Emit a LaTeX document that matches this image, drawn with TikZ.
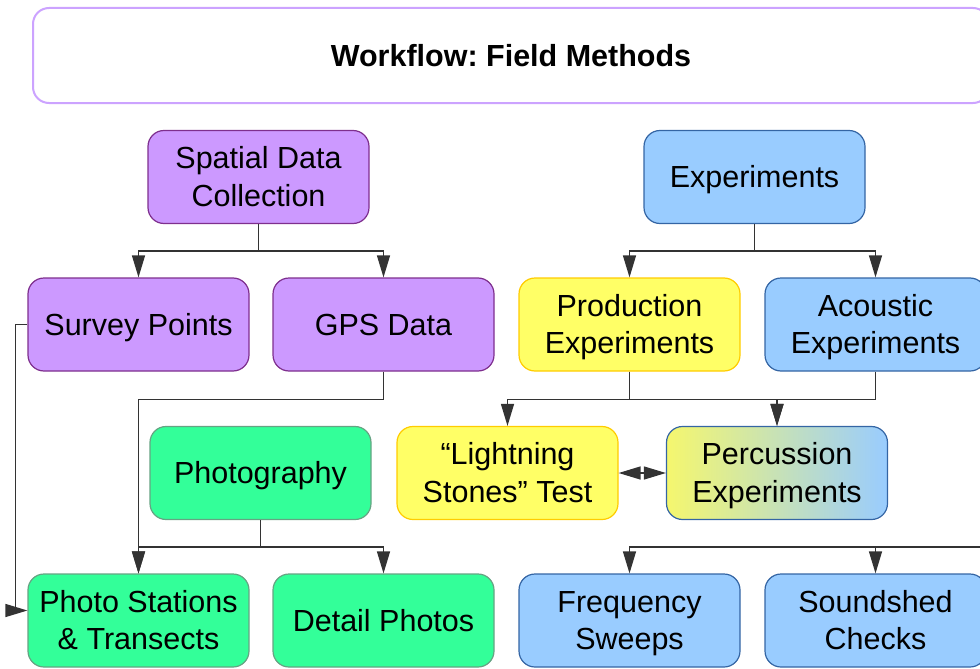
\documentclass[tikz,border=0pt]{standalone}
\usepackage{fontspec}
\setmainfont{Liberation Sans}
\usetikzlibrary{arrows.meta}
\frenchspacing

% Fill and border colours of the workflow boxes
\definecolor{purplefill}{HTML}{CC99FF}
\definecolor{purpleline}{HTML}{7E2F8E}
\definecolor{bluefill}{HTML}{99CCFF}
\definecolor{blueline}{HTML}{3465A4}
\definecolor{yellowfill}{HTML}{FFFF66}
\definecolor{yellowline}{HTML}{FFCC00}
\definecolor{greenfill}{HTML}{33FF99}
\definecolor{greenline}{HTML}{66A383}
\definecolor{titleline}{HTML}{CCA3FF}
\definecolor{gradleft}{HTML}{F5F76E}
\definecolor{linegray}{HTML}{333333}

% Line strut with the font's ascent and descent, so every line is centred alike
\newcommand\ls{\rule[-6.5pt]{0pt}{34.1pt}}

\begin{document}
\begin{tikzpicture}[x=1pt,y=-1pt,
  box/.style={rounded corners=16pt, minimum width=221pt, minimum height=93pt,
    line width=1.2pt, align=center, inner sep=0pt,
    font=\fontsize{30.5}{37.2}\selectfont},
  purplebox/.style={box, fill=purplefill, draw=purpleline},
  bluebox/.style={box, fill=bluefill, draw=blueline},
  yellowbox/.style={box, fill=yellowfill, draw=yellowline},
  greenbox/.style={box, fill=greenfill, draw=greenline},
  mixbox/.style={box, left color=gradleft, right color=bluefill, draw=blueline},
  tip/.tip={Triangle[length=22pt,width=13pt]},
  conn/.style={draw=linegray, line width=1.3pt, -tip},
  bothconn/.style={draw=linegray, line width=1.3pt, tip-tip}
]
\path[use as bounding box, clip] (0,0) rectangle (980,669);

% Title banner
\node[draw=titleline, line width=2pt, fill=white, rounded corners=16pt,
  minimum width=956pt, minimum height=95pt, inner sep=0pt,
  font=\bfseries\fontsize{30.5}{37.2}\selectfont] (title) at (511,55.5)
  {\ls Workflow: Field Methods};

% Top level
\node[purplebox] (spatial) at (258.5,177) {\ls Spatial Data\\Collection\ls};
\node[bluebox] (exper) at (754.5,177) {\ls Experiments};

% Second level
\node[purplebox] (survey) at (138.5,324.5) {\ls Survey Points};
\node[purplebox] (gps) at (383.5,324.5) {\ls GPS Data};
\node[yellowbox] (prod) at (629.5,324.5) {\ls Production\\Experiments\ls};
\node[bluebox] (acou) at (875.5,324.5) {\ls Acoustic\\Experiments\ls};

% Third level
\node[greenbox] (photo) at (260.5,473) {\ls Photography};
\node[yellowbox] (light) at (507.5,473) {\ls “Lightning\\Stones” Test\ls};
\node[mixbox] (perc) at (777,473) {\ls Percussion\\Experiments\ls};

% Bottom level
\node[greenbox] (stations) at (138.5,620.5) {\ls Photo Stations\\\& Transects\ls};
\node[greenbox] (detail) at (383.5,620.5) {\ls Detail Photos};
\node[bluebox] (freq) at (629.5,620.5) {\ls Frequency\\Sweeps\ls};
\node[bluebox] (sound) at (875.5,620.5) {\ls Soundshed\\Checks\ls};

% Branch feeding the bottom-right pair from beyond the right edge
\coordinate (feed) at (995,547);

% Connectors
\draw[conn] (spatial.south) -- ++(0,27) -| (survey.north);
\draw[conn] (spatial.south) -- ++(0,27) -| (gps.north);
\draw[conn] (exper.south) -- ++(0,27) -| (prod.north);
\draw[conn] (exper.south) -- ++(0,27) -| (acou.north);

\draw[conn] (gps.south) -- ++(0,28) -| (stations.north);
\draw[conn] (photo.south) -- ++(0,27) -| (stations.north);
\draw[conn] (photo.south) -- ++(0,27) -| (detail.north);
\draw[conn] (survey.west) -- ++(-12,0) |- ([yshift=10pt]stations.west);

\draw[conn] (prod.south) -- ++(0,28) -| (light.north);
\draw[conn] (prod.south) -- ++(0,28) -| (perc.north);
\draw[conn] (acou.south) -- ++(0,28) -| (perc.north);
\draw[bothconn] (light.east) -- (perc.west);

\draw[conn] (feed) -| (freq.north);
\draw[conn] (feed) -| (sound.north);
\end{tikzpicture}
\end{document}
